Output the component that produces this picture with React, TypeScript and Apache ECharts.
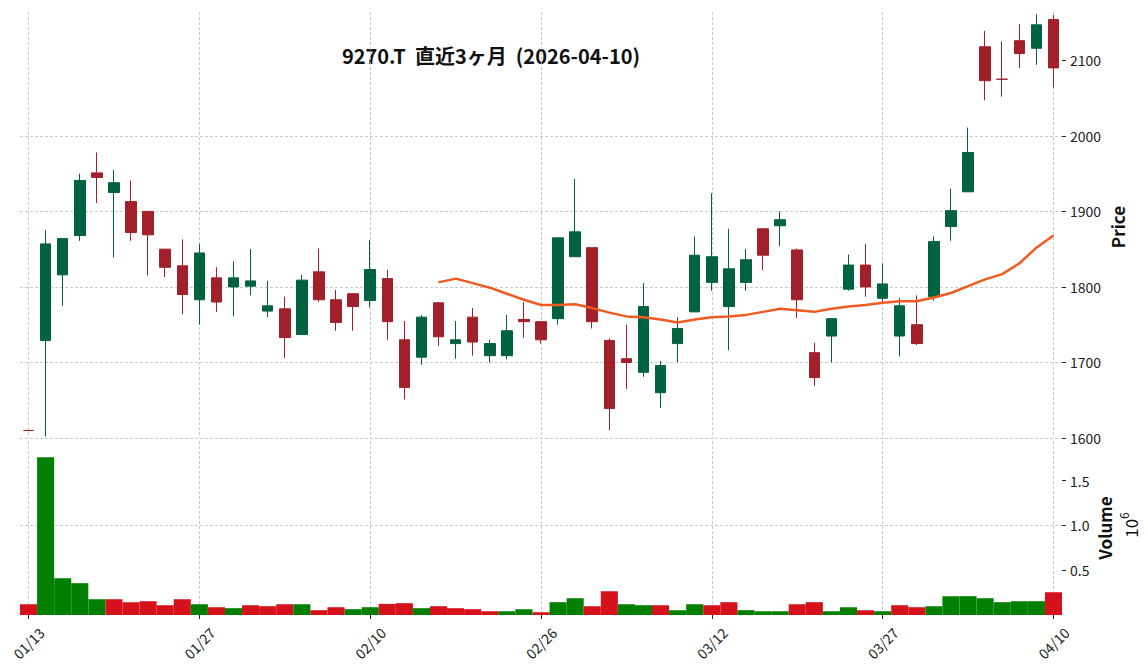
import React, { useEffect, useRef } from "react";
import * as echarts from "echarts";

const dates = [
  "01/13", "01/14", "01/15", "01/16", "01/19", "01/20", "01/21", "01/22", "01/23", "01/26",
  "01/27", "01/28", "01/29", "01/30", "02/02", "02/03", "02/04", "02/05", "02/06", "02/09",
  "02/10", "02/12", "02/13", "02/16", "02/17", "02/18", "02/19", "02/20", "02/24", "02/25",
  "02/26", "02/27", "03/02", "03/03", "03/04", "03/05", "03/06", "03/09", "03/10", "03/11",
  "03/12", "03/13", "03/16", "03/17", "03/18", "03/19", "03/23", "03/24", "03/25", "03/26",
  "03/27", "03/30", "03/31", "04/01", "04/02", "04/03", "04/06", "04/07", "04/08", "04/09",
  "04/10",
];

const opens = [
  1610, 1729, 1816, 1868, 1951, 1925, 1913, 1900, 1850, 1828,
  1783, 1812, 1800, 1801, 1768, 1771, 1737, 1820, 1783, 1791,
  1782, 1811, 1730, 1707, 1779, 1725, 1760, 1709, 1709, 1757,
  1754, 1758, 1840, 1852, 1729, 1705, 1687, 1660, 1725, 1767,
  1806, 1774, 1806, 1877, 1881, 1849, 1713, 1735, 1797, 1829,
  1785, 1735, 1750, 1787, 1880, 1926, 2118, 2075, 2126, 2116,
  2154,
];

const closes = [
  1610, 1857, 1864, 1941, 1945, 1938, 1872, 1869, 1826, 1790,
  1845, 1780, 1812, 1808, 1775, 1733, 1809, 1783, 1753, 1774,
  1823, 1754, 1667, 1760, 1734, 1730, 1727, 1725, 1742, 1754,
  1730, 1865, 1873, 1754, 1639, 1700, 1774, 1696, 1745, 1842,
  1840, 1824, 1836, 1842, 1889, 1783, 1680, 1758, 1829, 1800,
  1804, 1775, 1725, 1860, 1901, 1978, 2073, 2075, 2109, 2147,
  2090,
];

const highs = [
  1610, 1875, 1864, 1950, 1978, 1955, 1941, 1900, 1850, 1863,
  1857, 1826, 1834, 1850, 1808, 1787, 1816, 1851, 1796, 1792,
  1862, 1823, 1755, 1763, 1780, 1755, 1772, 1730, 1763, 1780,
  1754, 1865, 1943, 1852, 1732, 1750, 1805, 1702, 1760, 1867,
  1924, 1877, 1850, 1877, 1900, 1851, 1726, 1758, 1843, 1857,
  1831, 1785, 1789, 1867, 1930, 2011, 2139, 2125, 2148, 2161,
  2160,
];

const lows = [
  1610, 1602, 1775, 1861, 1911, 1839, 1861, 1815, 1813, 1764,
  1750, 1767, 1761, 1789, 1760, 1706, 1737, 1780, 1742, 1742,
  1773, 1730, 1651, 1697, 1722, 1705, 1709, 1700, 1704, 1733,
  1725, 1750, 1840, 1745, 1610, 1665, 1681, 1640, 1700, 1767,
  1795, 1716, 1795, 1822, 1854, 1759, 1669, 1700, 1795, 1787,
  1779, 1708, 1723, 1782, 1861, 1926, 2047, 2052, 2090, 2094,
  2064,
];

const volumes = [
  120000, 1761000, 411000, 355000, 176000, 176000, 143000, 154000, 109000, 176000,
  120000, 87000, 76000, 109000, 98000, 120000, 120000, 54000, 87000, 65000,
  87000, 124000, 132000, 76000, 98000, 76000, 65000, 42000, 42000, 65000,
  31000, 143000, 187000, 98000, 266000, 120000, 109000, 109000, 54000, 120000,
  109000, 143000, 54000, 42000, 42000, 120000, 143000, 42000, 87000, 54000,
  42000, 109000, 87000, 98000, 210000, 210000, 187000, 143000, 154000, 154000,
  254000,
];

const ma25 = [
  null, null, null, null, null, null, null, null, null, null,
  null, null, null, null, null, null, null, null, null, null,
  null, null, null, null, 1806, 1811, 1805, 1799, 1791, 1783,
  1776, 1776, 1777, 1772, 1766, 1761, 1760, 1757, 1753, 1757,
  1760, 1761, 1763, 1767, 1771, 1769, 1767, 1771, 1774, 1776,
  1779, 1781, 1781, 1786, 1792, 1801, 1810, 1817, 1831, 1852,
  1868,
];

const priceTicks = [1600, 1700, 1800, 1900, 2000, 2100];
const volumeTicks = [500000, 1000000, 1500000];

const titleText = "9270.T  直近3ヶ月  (2026-04-10)";

const UP = "#00633f";
const DOWN = "#a1202a";
const VUP = "#007f00";
const VDOWN = "#d5111c";
const MA_COLOR = "#f15b22";
const FONT = '"Noto Sans CJK JP", "Noto Sans", sans-serif';

export default function App() {
  const ref = useRef<HTMLDivElement>(null);

  useEffect(() => {
    const chart = echarts.init(ref.current!, null, { renderer: "svg" });

    const candleData = dates.map((_, i) => {
      const v = [opens[i], closes[i], lows[i], highs[i]];
      if (opens[i] === closes[i]) {
        return {
          value: v,
          itemStyle: {
            color: DOWN,
            color0: DOWN,
            borderColor: DOWN,
            borderColor0: DOWN,
            borderColorDoji: DOWN,
          },
        };
      }
      return v;
    });

    const volData = volumes.map((v, i) => {
      const up = i === 0 ? closes[i] > opens[i] : closes[i] >= closes[i - 1];
      return { value: v, itemStyle: { color: up ? VUP : VDOWN } };
    });

    const gridLineStyle = { color: "#bdbdbd", width: 0.8, type: [3, 2] as any };

    const option: any = {
      animation: false,
      backgroundColor: "#ffffff",
      grid: [
        { left: 20, top: 12, width: 1042, height: 426 },
        { left: 20, top: 441, width: 1042, height: 174 },
      ],
      xAxis: [
        {
          type: "category",
          gridIndex: 0,
          data: dates,
          boundaryGap: true,
          axisLine: { show: false },
          axisTick: { show: false },
          axisLabel: { show: false },
          splitLine: { show: true, interval: 9, alignWithLabel: true, lineStyle: gridLineStyle },
        },
        {
          type: "category",
          gridIndex: 1,
          data: dates,
          boundaryGap: true,
          axisLine: { show: false },
          axisTick: {
            show: true,
            interval: 9,
            alignWithLabel: true,
            length: 4,
            lineStyle: { color: "#222", width: 1 },
          },
          axisLabel: {
            interval: 9,
            rotate: 45,
            align: "center",
            verticalAlign: "middle",
            margin: 28,
            fontSize: 14,
            color: "#222",
            fontFamily: FONT,
          },
          splitLine: { show: true, interval: 9, alignWithLabel: true, lineStyle: gridLineStyle },
        },
      ],
      yAxis: [
        {
          type: "value",
          gridIndex: 0,
          position: "right",
          min: 1600,
          max: 2164,
          interval: 100,
          axisLine: { show: false },
          axisTick: { show: true, length: 4, lineStyle: { color: "#222" }, customValues: priceTicks },
          axisLabel: {
            customValues: priceTicks,
            margin: 8,
            fontSize: 14,
            color: "#222",
            fontFamily: FONT,
            formatter: (v: number) => String(v),
          },
          splitLine: { show: true, showMaxLine: false, lineStyle: gridLineStyle },
        },
        {
          type: "value",
          gridIndex: 1,
          position: "right",
          min: 0,
          max: 1942000,
          interval: 500000,
          axisLine: { show: false },
          axisTick: { show: true, length: 4, lineStyle: { color: "#222" }, customValues: volumeTicks },
          axisLabel: {
            customValues: volumeTicks,
            margin: 8,
            fontSize: 14,
            color: "#222",
            fontFamily: FONT,
            formatter: (v: number) => (v / 1e6).toFixed(1),
          },
          splitLine: { show: true, showMinLine: false, showMaxLine: false, lineStyle: gridLineStyle },
        },
      ],
      series: [
        {
          type: "candlestick",
          xAxisIndex: 0,
          yAxisIndex: 0,
          data: candleData,
          barWidth: 11,
          itemStyle: {
            color: UP,
            color0: DOWN,
            borderColor: UP,
            borderColor0: DOWN,
            borderColorDoji: DOWN,
            borderWidth: 1,
          },
          z: 2,
        },
        {
          type: "line",
          xAxisIndex: 0,
          yAxisIndex: 0,
          data: ma25,
          symbol: "none",
          showSymbol: false,
          connectNulls: false,
          lineStyle: { color: MA_COLOR, width: 2.5 },
          z: 3,
        },
        {
          type: "bar",
          xAxisIndex: 1,
          yAxisIndex: 1,
          data: volData,
          barWidth: "100%",
          barCategoryGap: "0%",
          z: 2,
        },
      ],
      graphic: [
        {
          type: "text",
          x: 491,
          y: 55,
          style: {
            text: titleText,
            fontSize: 20,
            fontWeight: "bold",
            fontFamily: FONT,
            fill: "#111",
            align: "center",
            verticalAlign: "middle",
          },
        },
        {
          type: "text",
          x: 1117,
          y: 227,
          rotation: Math.PI / 2,
          style: {
            text: "Price",
            fontSize: 17,
            fontWeight: "bold",
            fontFamily: FONT,
            fill: "#111",
            align: "center",
            verticalAlign: "middle",
          },
        },
        {
          type: "text",
          x: 1104,
          y: 528,
          rotation: Math.PI / 2,
          style: {
            text: "Volume",
            fontSize: 17,
            fontWeight: "bold",
            fontFamily: FONT,
            fill: "#111",
            align: "center",
            verticalAlign: "middle",
          },
        },
        {
          type: "text",
          x: 1128,
          y: 525,
          rotation: Math.PI / 2,
          style: {
            text: "{a|10}{b|6}",
            align: "center",
            verticalAlign: "middle",
            fill: "#111",
            rich: {
              a: { fontSize: 17, fontFamily: FONT, fill: "#111", lineHeight: 22, verticalAlign: "bottom" },
              b: { fontSize: 12, fontFamily: FONT, fill: "#111", lineHeight: 22, verticalAlign: "top" },
            },
          },
        },
      ],
    };

    chart.setOption(option);
    return () => chart.dispose();
  }, []);

  return (
    <div
      ref={ref}
      style={{ position: "fixed", left: 0, top: 0, width: 1148, height: 670, background: "#fff" }}
    />
  );
}
